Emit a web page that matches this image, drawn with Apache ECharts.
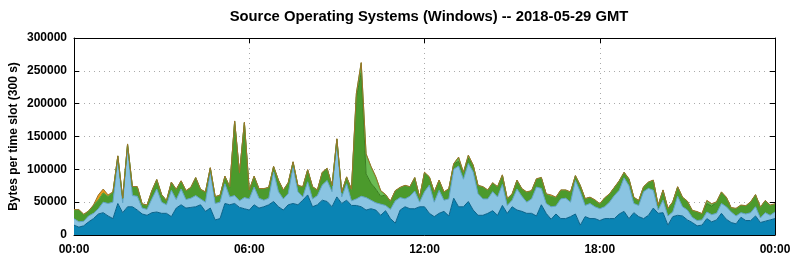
<!DOCTYPE html>
<html><head><meta charset="utf-8">
<script src="https://cdn.jsdelivr.net/npm/echarts@6/dist/echarts.min.js"></script>
<style>html,body{margin:0;padding:0;background:#fff}#c{width:794px;height:260px}</style>
</head><body><div id="c"></div>
<script>
// 10-minute time slots across the day
const slots = [];
for (let i = 0; i <= 144; i++) {
  const m = i * 10;
  slots.push(String(Math.floor(m / 60)).padStart(2, '0') + ':' + String(m % 60).padStart(2, '0'));
}
const tickLabels = ['00:00', '06:00', '12:00', '18:00', '00:00'];

const darkBlue = [15000,12000,14000,20000,25000,32000,34000,29000,25000,48000,
34000,43000,43000,38000,32000,30000,34000,35000,33000,33000,
28000,41000,46000,41000,42000,43000,46000,36000,41000,23000,
25000,48000,46000,48000,42000,40000,38000,46000,41000,43000,
46000,51000,43000,38000,46000,48000,46000,53000,61000,43000,
46000,53000,51000,43000,58000,48000,53000,45000,45000,43000,
38000,40000,38000,30000,37000,25000,18000,38000,43000,40000,
40000,43000,43000,33000,28000,33000,36000,29000,56000,43000,
43000,51000,38000,30000,30000,33000,37000,30000,45000,33000,
43000,38000,36000,33000,33000,29000,46000,33000,24000,32000,
25000,25000,28000,32000,15000,28000,25000,25000,22000,25000,
25000,25000,32000,36000,25000,34000,28000,25000,30000,41000,
33000,34000,15000,28000,30000,29000,23000,19000,14000,15000,
25000,20000,23000,33000,24000,19000,17000,27000,22000,22000,
29000,19000,21000,23000,25000];

const lightBlue = [10000,8000,7000,9000,8000,8000,16000,19000,25000,67000,
15000,90000,17000,21000,9000,9000,21000,35000,17000,13000,
40000,13000,24000,13000,14000,17000,9000,14000,55000,25000,
25000,30000,12000,12000,10000,17000,17000,27000,15000,10000,
10000,45000,23000,17000,17000,56000,20000,5000,20000,12000,
14000,23000,32000,23000,84000,10000,25000,7000,10000,16000,
19000,13000,11000,17000,8000,14000,34000,19000,12000,19000,
27000,7000,23000,43000,22000,35000,17000,26000,44000,62000,
42000,58000,58000,33000,25000,22000,29000,28000,32000,12000,
10000,32000,23000,17000,22000,44000,25000,15000,19000,12000,
30000,31000,22000,51000,51000,17000,23000,18000,18000,18000,
25000,35000,36000,51000,50000,14000,17000,41000,41000,27000,
5000,19000,14000,7000,29000,14000,15000,8000,8000,8000,
10000,11000,10000,15000,19000,16000,12000,7000,10000,12000,
14000,7000,13000,7000,10000];

const green = [13000,18000,10000,7000,12000,13000,14000,10500,15000,5000,
7000,5000,13000,14000,6000,6000,12000,14000,11000,6000,
12000,15000,12000,13000,16000,27000,14000,15000,6000,10000,
10000,11000,15000,113000,42000,114000,13000,16000,14000,17000,
16000,8000,17000,13000,16000,7000,9000,15000,18000,18000,
8000,19000,18000,9000,4000,7000,10000,17000,155000,188000,
36000,26000,21000,12000,16000,12000,15000,15000,20000,14000,
20000,7000,29000,12000,15000,15000,12000,15000,8000,7000,
10000,8000,10000,12000,18000,13000,13000,15000,14000,10000,
9000,13000,11000,15000,12000,12000,16000,14000,15500,13000,
13000,12000,15000,7000,9000,10000,9000,10000,7000,13000,
12000,12000,14000,8000,10000,9000,7000,7000,9000,15000,
7000,15000,11000,15000,14000,14000,13000,10000,13000,9000,
13000,13000,17000,17000,14000,6000,11000,11000,12000,16000,
18000,16000,18000,15000,12000];

const lightGreen = [0,0,0,0,0,0,0,0,0,0,
0,0,0,0,0,0,0,0,0,0,
0,0,0,0,0,0,0,0,0,0,
0,0,0,0,0,0,0,0,0,0,
0,0,0,0,0,0,0,0,0,0,
0,0,0,0,0,0,0,0,5000,15000,
30000,25000,18000,8000,0,0,0,0,0,0,
0,0,0,0,0,0,0,0,0,6000,
0,4000,0,0,0,0,0,0,0,0,
0,0,0,0,0,0,0,0,0,0,
0,0,0,0,0,0,0,0,0,0,
0,0,0,0,0,0,0,0,0,0,
0,0,0,0,0,0,0,0,0,0,
4000,3000,0,0,0,0,0,0,0,0,
0,0,0,0,0];

const orange = [700,700,700,700,700,8000,6000,2500,700,700,
700,700,700,700,700,700,700,700,700,700,
700,700,700,700,700,700,700,700,700,700,
700,700,700,700,700,700,700,700,700,700,
700,700,700,700,700,700,700,700,700,700,
700,700,700,700,700,700,700,700,700,700,
700,700,700,700,700,700,700,700,700,700,
700,700,700,700,700,700,700,700,700,700,
700,700,700,700,700,700,700,700,700,700,
700,700,700,700,700,700,700,700,2500,700,
700,700,700,700,700,700,700,700,700,700,
700,700,700,700,700,700,700,700,700,700,
700,700,700,700,700,700,700,700,700,700,
700,700,700,700,700,700,700,700,700,700,
700,700,700,700,700];

const FONT = '"Liberation Sans", Arial, sans-serif';
function layer(name, arr, fill, edge) {
  return {
    name, type: 'line', stack: 'all', data: arr, symbol: 'none',
    lineStyle: { width: 1, color: edge }, areaStyle: { color: fill, opacity: 1 },
    itemStyle: { color: fill }, silent: true, animation: false
  };
}
const every6h = (idx) => idx % 36 === 0;
const dotted = { show: true, interval: every6h, lineStyle: { color: '#aaa', type: [1, 4], width: 1 } };
const axisLine = { show: true, onZero: false, lineStyle: { color: '#000', width: 1 } };
const tick = { show: true, inside: true, length: 5, interval: every6h, lineStyle: { color: '#000' } };

const chart = echarts.init(document.getElementById('c'), null, { renderer: 'canvas' });
chart.setOption({
  animation: false,
  backgroundColor: '#fff',
  title: {
    text: 'Source Operating Systems (Windows) -- 2018-05-29 GMT',
    left: 424, top: 4, textAlign: 'center',
    textStyle: { fontFamily: FONT, fontWeight: 'bold', fontSize: 14.8, color: '#000' }
  },
  grid: { left: 74, right: 19, top: 38, bottom: 25, containLabel: false, outerBoundsMode: 'none' },
  xAxis: [{
    type: 'category', data: slots, boundaryGap: false, position: 'bottom',
    axisLine, axisTick: tick,
    axisLabel: { interval: 0, fontFamily: FONT, fontWeight: 'bold', fontSize: 12, color: '#000', margin: 9,
      formatter: (v, idx) => (idx % 36 === 0 ? tickLabels[idx / 36] : '') },
    splitLine: dotted
  }, {
    type: 'category', data: slots, boundaryGap: false, position: 'top',
    axisLine, axisTick: tick, axisLabel: { show: false }, splitLine: { show: false }
  }],
  yAxis: [{
    type: 'value', min: 0, max: 300000, interval: 50000, position: 'left',
    name: 'Bytes per time slot (300 s)', nameLocation: 'middle', nameGap: 54, nameRotate: 90,
    nameMoveOverlap: false,
    nameTextStyle: { fontFamily: FONT, fontWeight: 'bold', fontSize: 12, color: '#000' },
    axisLine, axisTick: { show: true, inside: true, length: 5, lineStyle: { color: '#000' } },
    axisLabel: { fontFamily: FONT, fontWeight: 'bold', fontSize: 12, color: '#000', margin: 7,
      formatter: v => String(v) },
    splitLine: { show: true, lineStyle: { color: '#aaa', type: [1, 4], width: 1 } }
  }, {
    type: 'value', min: 0, max: 300000, interval: 50000, position: 'right',
    axisLine, axisTick: { show: true, inside: true, length: 5, lineStyle: { color: '#000' } },
    axisLabel: { show: false }, splitLine: { show: false }
  }],
  series: [
    layer('Windows A', darkBlue, '#0a84b4', '#08628a'),
    layer('Windows B', lightBlue, '#8ac4e2', '#5ea2c6'),
    layer('Windows C', green, '#4b9a2c', '#3a7e20'),
    layer('Windows D', lightGreen, '#6cbc54', '#5aa842'),
    layer('Windows E', orange, '#e99a1c', '#9a7428')
  ]
});
</script></body></html>
